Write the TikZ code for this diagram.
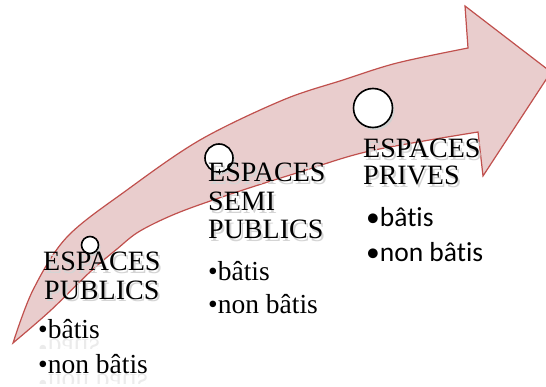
\documentclass[tikz,border=0pt]{standalone}
\usepackage{fontspec}
\setmainfont{Liberation Serif}
\newfontfamily\bodyserif[Ligatures=NoCommon]{Liberation Serif}
\newfontfamily\bodysans[Ligatures=NoCommon]{Carlito}
\definecolor{arrowline}{RGB}{192,80,77}
\definecolor{arrowfill}{RGB}{233,205,205}
% soft drop shadow behind a heading
\newcommand\shadowed[1]{\rlap{\kern2pt\raisebox{-2.5pt}{\textcolor{black!17}{#1}}}#1}
\tikzset{
  headline/.style={anchor=base west,inner sep=0pt,font=\bodyserif\fontsize{28}{28}\selectfont},
  listitem/.style={anchor=base west,inner sep=0pt,font=\bodyserif\fontsize{27.5}{28}\selectfont},
  sansitem/.style={listitem,font=\bodysans\fontsize{27.5}{28}\selectfont},
  mirror/.style={listitem,yscale=-1,text=black!8},
  milestone/.style={circle,draw=black,fill=white,line width=1.6pt,inner sep=0pt,minimum size=#1},
  milestoneshadow/.style={circle,fill=black!18,inner sep=0pt,minimum size=#1}
}
\begin{document}
\begin{tikzpicture}[x=1pt,y=-1pt]
\clip (0,0) rectangle (546,387);
% the big curved arrow
\filldraw[draw=arrowline,fill=arrowfill,line width=1.2pt,line join=miter]
  plot[smooth,tension=0.55] coordinates {(13,343) (33,290) (67,237) (127,190) (200,140) (283,100) (343,80) (397,63) (468,48)}
  -- (465,6) -- (551,72) -- (483,176) -- (478,132)
  -- plot[smooth,tension=0.55] coordinates {(478,132) (370,151) (300,172) (240,191) (180,212) (140,231) (117,249) (90,272) (50,311) (13,343)}
  -- cycle;
% milestones, small to large
\foreach \n/\x/\y/\d in {a/90/245/17, b/219/158/28, c/373/108/39}
  {\node[milestoneshadow=\d] (ms\n) at (\x+2,\y+2.5) {};
   \node[milestone=\d] (m\n) at (\x,\y) {};}
% group 1
\node[headline] (pub1) at (43,271) {\shadowed{ESPACES}};
\node[headline] (pub2) at (44,299) {\shadowed{PUBLICS}};
\begin{scope}
  \clip (30,339) rectangle (170,348) (30,374) rectangle (170,383);
  \node[mirror] (pubR1) at (38,339) {•bâtis};
  \node[mirror] (pubR2) at (38,374) {•non bâtis};
\end{scope}
\node[listitem] (pubI1) at (38,338) {•bâtis};
\node[listitem] (pubI2) at (38,373) {•non bâtis};
% group 2
\node[headline] (sem1) at (208,182) {\shadowed{ESPACES}};
\node[headline] (sem2) at (208,211) {\shadowed{SEMI}};
\node[headline] (sem3) at (208,239) {\shadowed{PUBLICS}};
\node[listitem] (semI1) at (208,280) {•bâtis};
\node[listitem] (semI2) at (208,313) {•non bâtis};
% group 3
\node[headline] (pri1) at (363,158) {\shadowed{ESPACES}};
\node[headline] (pri2) at (363,185) {\shadowed{PRIVES}};
\node[sansitem] (priI1) at (366,227) {•bâtis};
\node[sansitem] (priI2) at (366,262) {•non bâtis};
\end{tikzpicture}
\end{document}
